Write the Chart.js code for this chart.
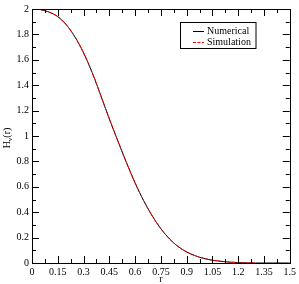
<!DOCTYPE html>
<html>
<head>
<meta charset="utf-8">
<script src="https://cdn.jsdelivr.net/npm/chart.js@4"></script>
<style>
  body { margin: 0; background: #fff; }
  canvas { display: block; }
</style>
</head>
<body>
<canvas id="myChart" width="299" height="284"></canvas>
<script>
// valores
const radios = [0, 0.05, 0.1, 0.15, 0.2, 0.25, 0.3, 0.35, 0.4, 0.45, 0.5, 0.55, 0.6, 0.65, 0.7,
    0.75, 0.8, 0.85, 0.9, 0.95, 1.0, 1.05, 1.1, 1.15, 1.2, 1.25, 1.3, 1.4, 1.5];
const numerico = [2.0, 1.995, 1.975, 1.94, 1.875, 1.78, 1.655, 1.50, 1.32, 1.135, 0.96, 0.79, 0.63, 0.49, 0.37,
    0.27, 0.19, 0.13, 0.087, 0.057, 0.036, 0.022, 0.013, 0.007, 0.003, 0.001, 0, 0, 0];
const simulacion = [2.0, 1.995, 1.975, 1.94, 1.875, 1.78, 1.655, 1.50, 1.32, 1.135, 0.96, 0.79, 0.63, 0.49, 0.37,
    0.27, 0.19, 0.13, 0.087, 0.057, 0.036, 0.022, 0.013, 0.007, 0.003, 0.001, 0];

const ticksX = [0, 0.15, 0.3, 0.45, 0.6, 0.75, 0.9, 1.05, 1.2, 1.35, 1.5];
const etiquetasX = ['0', '0.15', '0.3', '0.45', '0.6', '0.75', '0.9', '1.05', '1.2', '1.35', '1.5'];
const menoresX = [0.075, 0.225, 0.375, 0.525, 0.675, 0.825, 0.975, 1.125, 1.275, 1.425];
const ticksY = [0, 0.2, 0.4, 0.6, 0.8, 1, 1.2, 1.4, 1.6, 1.8, 2];
const etiquetasY = ['0', '0.2', '0.4', '0.6', '0.8', '1', '1.2', '1.4', '1.6', '1.8', '2'];
const menoresY = [0.1, 0.3, 0.5, 0.7, 0.9, 1.1, 1.3, 1.5, 1.7, 1.9];

const fuente = 'Liberation Serif, Times New Roman, serif';

function puntos(xs, ys) {
    return ys.map((y, i) => ({ x: xs[i], y: y }));
}

// ticks hacia dentro, titulos y leyenda
const decoracion = {
    id: 'decoracion',
    afterDraw(chart) {
        const ctx = chart.ctx;
        const a = chart.chartArea;
        const sx = chart.scales.x;
        const sy = chart.scales.y;
        ctx.save();
        ctx.strokeStyle = '#000';
        ctx.lineWidth = 1;
        ctx.beginPath();
        const marcaX = (v, len) => {
            const px = Math.round(sx.getPixelForValue(v)) + 0.5;
            ctx.moveTo(px, a.bottom); ctx.lineTo(px, a.bottom - len);
            ctx.moveTo(px, a.top); ctx.lineTo(px, a.top + len);
        };
        const marcaY = (v, len) => {
            const py = Math.round(sy.getPixelForValue(v)) + 0.5;
            ctx.moveTo(a.left, py); ctx.lineTo(a.left + len, py);
            ctx.moveTo(a.right, py); ctx.lineTo(a.right - len, py);
        };
        ticksX.forEach(v => marcaX(v, 7));
        menoresX.forEach(v => marcaX(v, 4));
        ticksY.forEach(v => marcaY(v, 7));
        menoresY.forEach(v => marcaY(v, 4));
        ctx.stroke();

        // titulo eje x
        ctx.fillStyle = '#000';
        ctx.font = '10px ' + fuente;
        ctx.textAlign = 'center';
        ctx.textBaseline = 'middle';
        ctx.fillText('r', (a.left + a.right) / 2, 279);

        // titulo eje y: H_v(r)
        ctx.save();
        ctx.translate(7, (a.top + a.bottom) / 2 + 2);
        ctx.rotate(-Math.PI / 2);
        ctx.textAlign = 'left';
        const wH = ctx.measureText('H').width;
        ctx.font = '7px ' + fuente;
        const wV = ctx.measureText('v').width;
        ctx.font = '10px ' + fuente;
        const wR = ctx.measureText('(r)').width;
        let x0 = -(wH + wV + wR) / 2;
        ctx.fillText('H', x0, 0);
        ctx.font = '7px ' + fuente;
        ctx.fillText('v', x0 + wH, 3);
        ctx.font = '10px ' + fuente;
        ctx.fillText('(r)', x0 + wH + wV, 0);
        ctx.restore();

        // leyenda
        const lx = 180.5, ly = 22.5, lw = 75.5, lh = 26;
        ctx.strokeStyle = '#000';
        ctx.strokeRect(lx, ly, lw, lh);
        chart.data.datasets.forEach((ds, i) => {
            const yy = Math.round(ly + 8 + i * 11.5) + 0.5;
            ctx.beginPath();
            ctx.strokeStyle = ds.borderColor;
            ctx.setLineDash(ds.borderDash || []);
            ctx.moveTo(193, yy);
            ctx.lineTo(204, yy);
            ctx.stroke();
            ctx.setLineDash([]);
            ctx.fillStyle = '#000';
            ctx.textAlign = 'left';
            ctx.textBaseline = 'middle';
            ctx.font = '10px ' + fuente;
            ctx.fillText(ds.label, 207, yy);
        });
        ctx.restore();
    }
};

const ctx = document.getElementById('myChart').getContext('2d');
const myChart = new Chart(ctx, {
    type: 'scatter',
    data: {
        datasets: [
            {
                label: 'Numerical',
                data: puntos(radios, numerico),
                showLine: true,
                borderColor: '#000000',
                borderWidth: 1,
                pointRadius: 0,
                cubicInterpolationMode: 'monotone',
                order: 2
            },
            {
                label: 'Simulation',
                data: puntos(radios, simulacion),
                showLine: true,
                borderColor: '#ff0000',
                borderWidth: 1,
                borderDash: [3, 1.5],
                pointRadius: 0,
                cubicInterpolationMode: 'monotone',
                order: 1
            }
        ]
    },
    options: {
        responsive: false,
        animation: false,
        layout: { padding: { left: 0, top: 4, right: 8, bottom: 0 } },
        plugins: {
            legend: { display: false },
            tooltip: { enabled: false }
        },
        scales: {
            x: {
                type: 'linear',
                min: 0,
                max: 1.5,
                afterBuildTicks: s => { s.ticks = ticksX.map(v => ({ value: v })); },
                afterFit: s => { s.height = 21; },
                grid: { display: false, drawTicks: false },
                border: { display: true, color: '#000', width: 1 },
                ticks: {
                    color: '#000',
                    padding: 3,
                    maxRotation: 0,
                    autoSkip: false,
                    font: { family: fuente, size: 10 },
                    callback: (v, i) => etiquetasX[i]
                }
            },
            y: {
                type: 'linear',
                min: 0,
                max: 2,
                afterBuildTicks: s => { s.ticks = ticksY.map(v => ({ value: v })); },
                afterFit: s => { s.width = 32; },
                grid: { display: false, drawTicks: false },
                border: { display: true, color: '#000', width: 1 },
                ticks: {
                    color: '#000',
                    padding: 3,
                    autoSkip: false,
                    font: { family: fuente, size: 10 },
                    callback: (v, i) => etiquetasY[i]
                }
            }
        }
    },
    plugins: [decoracion, {
        id: 'marco',
        afterDraw(chart) {
            const a = chart.chartArea;
            const c = chart.ctx;
            c.save();
            c.strokeStyle = '#000';
            c.lineWidth = 1;
            c.strokeRect(Math.round(a.left) + 0.5, Math.round(a.top) + 0.5,
                Math.round(a.right - a.left), Math.round(a.bottom - a.top));
            c.restore();
        }
    }]
});
</script>
</body>
</html>
